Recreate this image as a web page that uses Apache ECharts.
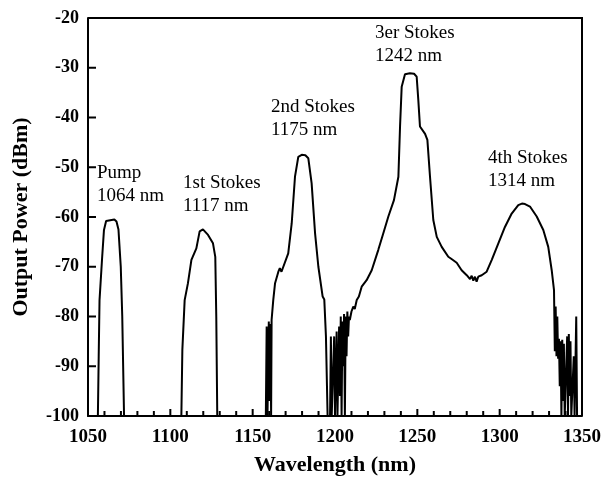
<!DOCTYPE html>
<html>
<head>
<meta charset="utf-8">
<script src="https://cdn.jsdelivr.net/npm/echarts@6/dist/echarts.min.js"></script>
<style>
  html, body { margin: 0; padding: 0; background: #ffffff; }
  #spectrum { width: 604px; height: 484px; }
</style>
</head>
<body>
<div id="spectrum"></div>
<script>
// wavelength (nm) and output power (dBm)
var wavelength = [
  1050, 1056, 1056.5, 1057, 1058.5, 1059.7, 1061, 1062, 1066, 1067.3, 1068.5, 1069.9, 1070.8, 1071.9,
  1106.7, 1107.3, 1108.7, 1110.7, 1112.8, 1115.8, 1117.8, 1119.8, 1121, 1122.9, 1125.9, 1127.3, 1127.9, 1128.5,
  1158, 1158.5, 1159, 1159.8, 1160.3, 1160.8, 1161.2, 1161.5, 1162.5, 1163.6, 1165.6, 1166.5, 1167.5, 1168.6,
  1171.6, 1173.7, 1175.7, 1177.7, 1179.8, 1182, 1183.8, 1185.8, 1187.9, 1189.9, 1192.5, 1193.5, 1194.5, 1195.5,
  1197, 1197.5, 1198, 1199.5, 1200, 1201, 1201.5, 1202.5, 1203, 1203.5, 1204, 1204.5, 1205, 1205.5, 1206,
  1206.5, 1207, 1207.5, 1208, 1208.5, 1209, 1210, 1211.1, 1212, 1213.2, 1214.5, 1216.2, 1219.2, 1222.3,
  1226.3, 1229.3, 1232.4, 1235.8, 1238.5, 1239.5, 1240.5, 1242.5, 1245.5, 1248, 1249.6, 1250.6, 1251.6,
  1254.7, 1256.1, 1257.7, 1259.7, 1261.8, 1264.8, 1268.8, 1271, 1273.9, 1276.9, 1280, 1282, 1283, 1284,
  1285, 1286, 1287, 1289.1, 1292.1, 1295.2, 1299.2, 1303.2, 1307.3, 1311.3, 1313.5, 1315.4, 1318.4, 1322.5,
  1326.5, 1329.5, 1331.6, 1333, 1333.5, 1334, 1334.5, 1335, 1335.5, 1336, 1336.5, 1337, 1337.5, 1338, 1338.5,
  1339, 1339.5, 1340.5, 1341, 1341.5, 1342, 1342.5, 1343, 1343.5, 1344.5, 1345, 1345.5, 1346, 1346.5, 1347, 1350
];
var power = [
  -100, -100, -88, -76.7, -68.6, -62.6, -60.8, -60.5, -60.5, -60.9, -62.5, -70, -80, -100,
  -100, -86.7, -76.7, -73.3, -68.6, -66.3, -62.9, -62.5, -62.7, -63.6, -65.3, -68, -80, -100,
  -100, -82, -100, -81, -97, -81.5, -100, -80.7, -76.7, -73.3, -71, -70.3, -71, -70.7,
  -67.3, -61.3, -51.9, -47.9, -47.5, -47.6, -48.2, -53.2, -63.3, -70, -76, -76.6, -84, -100,
  -100, -84, -100, -84, -100, -83, -100, -82, -96, -80, -100, -81, -90, -79.5, -100,
  -80, -88, -79, -84, -80, -80.7, -79, -78, -78.5, -76.7, -76, -74, -72.7, -70.7,
  -66.6, -63.3, -59.9, -56.6, -51.9, -41.8, -33.8, -31.3, -31.1, -31.2, -31.8, -36.5, -41.8,
  -43.3, -44.5, -51.9, -60.6, -64, -66, -68, -68.5, -69.2, -70.7, -71.7, -72.5, -71.8, -72.8,
  -72, -73, -72, -71.7, -71, -68.6, -65.3, -62, -59.3, -57.6, -57.3, -57.4, -57.9, -59.9,
  -62.6, -66, -70.7, -74.7, -87, -78, -88, -80, -88.5, -84.5, -94, -85, -100, -84.7, -97,
  -85.5, -100, -100, -84, -100, -83.5, -96, -85, -100, -100, -88, -100, -100, -80, -100, -100
];

// tick positions
var xMajorTicks = [1100, 1150, 1200, 1250, 1300];
var xMinorTicks = [1060, 1070, 1080, 1090, 1110, 1120, 1130, 1140, 1160, 1170, 1180, 1190,
                   1210, 1220, 1230, 1240, 1260, 1270, 1280, 1290, 1310, 1320, 1330, 1340];
var yTicks = [-90, -80, -70, -60, -50, -40, -30];

// peak labels
var peakNames = ['Pump', '1st Stokes', '2nd Stokes', '3er Stokes', '4th Stokes'];
var peakWaves = ['1064 nm', '1117 nm', '1175 nm', '1242 nm', '1314 nm'];

var serif = '"Liberation Serif", "Times New Roman", serif';
var labelPos = [[97, 162], [183, 172], [271, 96], [375, 22], [488, 147]];

var points = wavelength.map(function (w, i) { return [w, power[i]]; });

var chart = echarts.init(document.getElementById('spectrum'));
chart.setOption({
  animation: false,
  grid: { left: 88, right: 22, top: 18, bottom: 68 },
  xAxis: {
    type: 'value', min: 1050, max: 1350, interval: 50,
    name: 'Wavelength (nm)', nameLocation: 'middle', nameGap: 38,
    nameTextStyle: { fontFamily: serif, fontWeight: 'bold', fontSize: 22, color: '#000' },
    axisLine: { show: true, onZero: false, lineStyle: { color: '#000', width: 2 } },
    axisTick: { show: false },
    splitLine: { show: false },
    axisLabel: {
      fontFamily: serif, fontWeight: 'bold', fontSize: 19, color: '#000', margin: 12,
      formatter: function (v) { return String(v); }
    }
  },
  yAxis: {
    type: 'value', min: -100, max: -20, interval: 10,
    name: 'Output Power (dBm)', nameLocation: 'middle', nameGap: 56,
    nameTextStyle: { fontFamily: serif, fontWeight: 'bold', fontSize: 22, color: '#000' },
    axisLine: { show: true, onZero: false, lineStyle: { color: '#000', width: 2 } },
    axisTick: { show: false },
    splitLine: { show: false },
    axisLabel: { fontFamily: serif, fontWeight: 'bold', fontSize: 18, color: '#000', margin: 9 }
  },
  series: [{
    type: 'line',
    data: points,
    showSymbol: false,
    clip: true,
    lineStyle: { color: '#000', width: 2 }
  }]
});

// frame, inward ticks and peak labels, placed through the axes' scales
function px(v) { return chart.convertToPixel({ xAxisIndex: 0, yAxisIndex: 0 }, v); }
var g = [];
var tl = px([1050, -20]), br = px([1350, -100]);
g.push({
  id: 'frame', type: 'polyline', z: 10,
  shape: { points: [[tl[0], tl[1]], [br[0], tl[1]], [br[0], br[1]]] },
  style: { stroke: '#000', lineWidth: 2, fill: null }
});
function xTick(v, len, k) {
  var p = px([v, -100]);
  g.push({ id: 'xt' + k + v, type: 'line', z: 10,
    shape: { x1: p[0], y1: p[1], x2: p[0], y2: p[1] - len },
    style: { stroke: '#000', lineWidth: 2 } });
}
xMajorTicks.forEach(function (v) { xTick(v, 7, 'M'); });
xMinorTicks.forEach(function (v) { xTick(v, 5, 'm'); });
yTicks.forEach(function (v) {
  var p = px([1050, v]);
  g.push({ id: 'yt' + v, type: 'line', z: 10,
    shape: { x1: p[0], y1: p[1], x2: p[0] + 8, y2: p[1] },
    style: { stroke: '#000', lineWidth: 2 } });
});
peakNames.forEach(function (n, i) {
  g.push({
    id: 'lab' + i, type: 'text', z: 10, left: labelPos[i][0], top: labelPos[i][1],
    style: { text: n + '\n' + peakWaves[i], font: '19px ' + serif, lineHeight: 23, fill: '#000' }
  });
});
chart.setOption({ graphic: g });
</script>
</body>
</html>
